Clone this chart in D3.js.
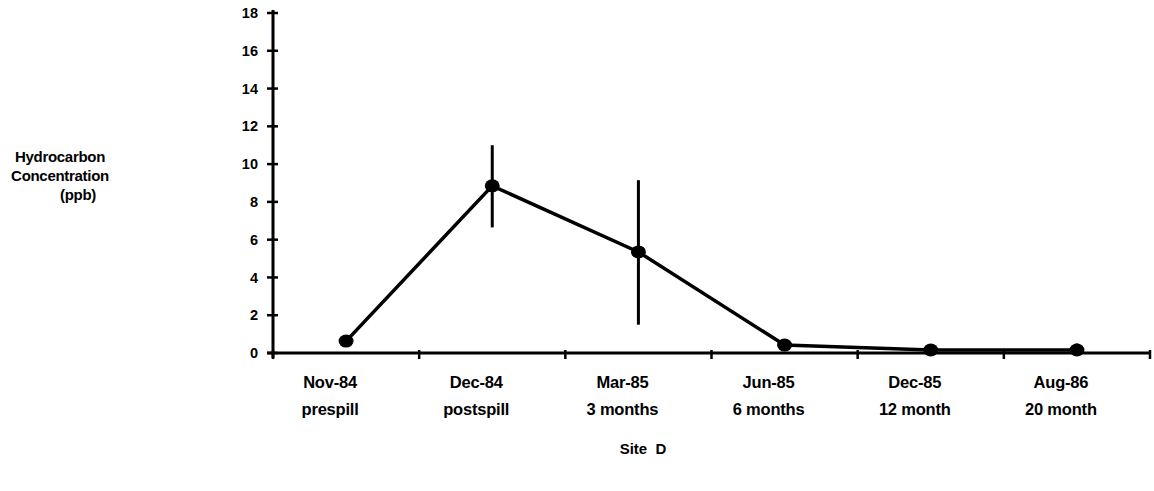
<!DOCTYPE html>
<html lang="en">
  <script src="https://d3js.org/d3.v7.min.js"></script>
  <style>
    body { margin: 0; background: #fff; }
    text { font-family: "Liberation Sans", Arial, sans-serif; font-weight: bold; fill: #000; }
  </style>
  <body>
    <svg width="1154" height="491"></svg>
    <script>
      // sampling dates and their second label lines
      const dates = ["Nov-84", "Dec-84", "Mar-85", "Jun-85", "Dec-85", "Aug-86"];
      const periods = ["prespill", "postspill", "3 months", "6 months", "12 month", "20 month"];
      // mean hydrocarbon concentration (ppb)
      const means = [0.63, 8.85, 5.35, 0.42, 0.16, 0.16];
      // error bar low / high (null = none drawn)
      const errLow = [null, 6.65, 1.5, null, null, 0.16];
      const errHigh = [null, 11.0, 9.15, null, null, 0.5];
      const yTicks = [0, 2, 4, 6, 8, 10, 12, 14, 16, 18];

      const svg = d3.select("svg");
      const mLeft = 273, mRight = 1150, mTop = 13, mBottom = 353;

      const x = d3.scaleBand().domain(dates).range([mLeft, mRight]);
      const y = d3.scaleLinear().domain([0, 18]).range([mBottom, mTop]);

      // y axis
      const ya = svg.append("g").attr("transform", `translate(${mLeft},0)`)
        .call(d3.axisLeft(y).tickValues(yTicks).tickSize(0).tickPadding(15));
      ya.select(".domain").remove();
      ya.selectAll("text").style("font-size", "14.5px").style("font-family", "Liberation Sans, Arial").style("font-weight", "bold");
      svg.append("line").attr("x1", mLeft).attr("x2", mLeft).attr("y1", mTop - 3).attr("y2", mBottom + 5)
        .attr("stroke", "#000").attr("stroke-width", 3);
      svg.selectAll(".ytk").data(yTicks).enter().append("line")
        .attr("x1", mLeft - 6).attr("x2", mLeft + 5)
        .attr("y1", d => y(d)).attr("y2", d => y(d))
        .attr("stroke", "#000").attr("stroke-width", 2.5);

      // x axis
      svg.append("line").attr("x1", mLeft - 6).attr("x2", mRight).attr("y1", mBottom).attr("y2", mBottom)
        .attr("stroke", "#000").attr("stroke-width", 3);
      const xTickPos = dates.map(d => x(d)).concat([mRight]);
      svg.selectAll(".xtk").data(xTickPos).enter().append("line")
        .attr("x1", d => d).attr("x2", d => d)
        .attr("y1", mBottom - 3).attr("y2", mBottom + 6)
        .attr("stroke", "#000").attr("stroke-width", 2.5);

      const cx = d => x(d) + x.bandwidth() / 2;
      const lx = d => cx(d) - 16;
      svg.selectAll(".xl1").data(dates).enter().append("text")
        .attr("x", lx).attr("y", 388).attr("text-anchor", "middle")
        .style("font-size", "16.5px").style("letter-spacing", "-0.2px").text(d => d);
      svg.selectAll(".xl2").data(dates).enter().append("text")
        .attr("x", (d, i) => lx(dates[i])).attr("y", 415).attr("text-anchor", "middle")
        .style("font-size", "16.5px").style("letter-spacing", "-0.2px").text((d, i) => periods[i]);

      // error bars
      dates.forEach((d, i) => {
        if (errLow[i] === null) return;
        svg.append("line").attr("x1", cx(d)).attr("x2", cx(d))
          .attr("y1", y(errLow[i])).attr("y2", y(errHigh[i]))
          .attr("stroke", "#000").attr("stroke-width", 3);
      });

      // line
      const pts = dates.map((d, i) => [cx(d), y(means[i])]);
      svg.append("path").attr("d", d3.line()(pts))
        .attr("fill", "none").attr("stroke", "#000").attr("stroke-width", 3.5);

      svg.selectAll(".pt").data(pts).enter().append("ellipse")
        .attr("cx", d => d[0]).attr("cy", d => d[1])
        .attr("rx", 7.5).attr("ry", 6.5).attr("fill", "#000");

      // axis titles
      const yl = svg.append("g").style("font-size", "15px").style("letter-spacing", "-0.3px");
      yl.append("text").attr("x", 60).attr("y", 162).attr("text-anchor", "middle").text("Hydrocarbon");
      yl.append("text").attr("x", 60).attr("y", 181).attr("text-anchor", "middle").text("Concentration");
      yl.append("text").attr("x", 78).attr("y", 200).attr("text-anchor", "middle").text("(ppb)");

      svg.append("text").attr("x", 643).attr("y", 454).attr("text-anchor", "middle")
        .style("font-size", "15px").attr("xml:space", "preserve").style("white-space", "pre").text("Site  D");
    </script>
  </body>
</html>
